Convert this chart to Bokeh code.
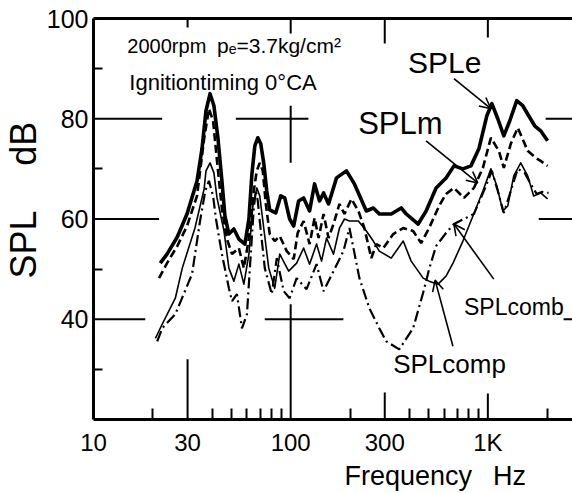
from bokeh.plotting import figure
from bokeh.models import Range1d, FixedTicker, LogAxis, Label, Arrow, OpenHead, Title
from bokeh.embed import file_html
from bokeh.resources import INLINE

# ---------------- data ----------------
# SPL_e : total engine noise (thick solid)
freq_e = [21.8, 23.6, 26.6, 29.8, 33.5, 35.5, 37.2, 39.0, 40.8, 42.8, 44.8, 46.4, 48.6, 51.5,
          54.6, 58.6, 61.4, 63.6, 65.8, 68.1, 70.5, 73.1, 75.6, 78.3, 84.0, 89.0, 93.3, 98.8,
          103.6, 109.7, 116.3, 124.7, 132.2, 140.1, 146.8, 155.6, 170.8, 191.8, 210.5, 241.9,
          262.5, 281.5, 323.6, 363.6, 385.4, 443.1, 486.3, 546.3, 613.7, 673.4, 747.4, 820.6,
          900.6, 988.3, 1048, 1123, 1205, 1292, 1401, 1503, 1611, 1728, 1852, 2009]
spl_e = [51.2, 53.0, 56.4, 61.0, 67.6, 74.0, 81.6, 85.0, 82.6, 76.0, 67.6, 60.6, 57.0, 58.0,
         56.0, 55.0, 60.0, 69.0, 74.6, 76.2, 75.0, 71.0, 65.6, 61.8, 61.2, 64.6, 64.2, 60.0,
         58.6, 63.6, 64.2, 61.6, 67.0, 63.6, 65.2, 63.0, 68.2, 69.6, 67.0, 61.6,
         62.2, 61.0, 61.0, 62.2, 61.0, 59.0, 61.6, 66.2, 68.2, 70.6, 70.0, 70.6,
         74.0, 80.6, 83.0, 80.0, 76.6, 79.6, 83.6, 82.6, 80.6, 78.6, 77.6, 75.6]

# SPL_m : mechanical noise (dashed)
freq_m = [21.5, 23.6, 26.6, 29.8, 33.5, 36.4, 38.5, 40.4, 42.3, 44.8, 47.5, 50.4, 54.6, 57.9,
          61.4, 65.0, 67.3, 69.7, 72.2, 74.8, 78.3, 83.0, 88.0, 95.5, 103.6, 108.5, 116.3,
          124.7, 132.2, 138.5, 146.8, 155.6, 164.9, 176.8, 187.4, 203.3, 220.5, 236.4, 256.5,
          271.8, 294.9, 331.3, 372.2, 417.9, 458.8, 503.5, 565.7, 613.7, 673.4, 756.2, 849.9,
          943.5, 1036, 1137, 1205, 1307, 1418, 1592, 1748, 1852, 2009]
spl_m = [48.2, 51.2, 54.6, 58.6, 64.6, 76.0, 82.0, 79.6, 71.6, 62.0, 56.0, 53.0, 54.2, 50.2,
         56.2, 65.6, 69.6, 71.2, 69.6, 63.0, 57.0, 55.6, 56.6, 53.6, 52.0, 57.2, 59.6,
         55.0, 60.2, 56.2, 61.0, 56.2, 59.0, 63.0, 61.0, 64.0, 61.6, 58.2, 52.2,
         55.0, 54.2, 57.0, 58.2, 57.6, 55.2, 58.2, 62.6, 65.0, 66.2, 64.2, 66.2,
         70.2, 76.2, 73.6, 70.2, 75.0, 78.2, 73.6, 72.2, 71.6, 70.6]

# SPL_comp (thin solid)
freq_comp = [20.6, 22.3, 26.0, 28.2, 32.7, 36.4, 37.2, 39.0, 40.8, 42.3, 45.9, 48.6, 51.5,
             54.6, 57.9, 61.4, 64.3, 67.4, 69.7, 73.1, 77.4, 83.0, 88.0, 97.7, 107.2, 116.3,
             124.7, 135.3, 143.4, 152.0, 164.9, 176.8, 187.4, 198.6, 220.5, 241.9, 262.5,
             281.5, 323.6, 372.2, 408.4, 469.6, 503.5, 559.2, 613.7, 665.6, 747.4, 840.0,
             943.5, 1036, 1110, 1191, 1262, 1353, 1468, 1592, 1708, 1852, 2009]
spl_comp = [36.2, 39.0, 44.2, 50.2, 58.2, 66.0, 69.6, 71.2, 69.2, 64.2, 57.6, 50.2, 47.6,
            51.0, 47.0, 53.0, 62.6, 66.2, 64.6, 58.0, 50.2, 46.2, 53.0, 49.6, 51.2, 54.2,
            51.0, 55.0, 51.6, 56.2, 53.0, 58.2, 60.0, 59.6, 59.6, 57.6, 55.6,
            53.6, 52.2, 55.6, 51.6, 48.2, 47.6, 47.0, 48.6, 51.2, 55.6, 60.6,
            65.6, 70.0, 66.6, 61.6, 62.6, 68.6, 71.2, 68.6, 64.6, 65.2, 64.0]

# SPL_comb (dash-dot)
freq_comb = [21.05, 22.3, 26.0, 31.6, 34.7, 36.9, 38.5, 40.4, 41.8, 44.8, 48.6, 50.4, 53.4,
             56.6, 60.0, 62.1, 65.0, 66.6, 68.1, 69.7, 73.9, 80.2, 85.0, 92.2, 98.8, 107.2,
             120.4, 135.3, 146.8, 164.9, 185.2, 198.6, 208.1, 223.1, 250.6, 281.5, 305.3,
             355.2, 417.9, 475.1, 503.5, 546.3, 613.7, 673.4, 756.2, 849.9, 954.6, 1048,
             1123, 1205, 1307, 1418, 1538, 1649, 1768, 1874, 2033]
spl_comb = [35.6, 38.2, 41.0, 49.0, 59.6, 65.6, 67.6, 64.6, 60.0, 53.0, 46.2, 43.6, 45.0,
            38.2, 41.0, 50.2, 62.2, 65.6, 63.6, 59.6, 50.2, 45.0, 52.2, 45.6, 44.2, 48.2,
            46.0, 51.0, 45.6, 49.6, 53.6, 58.2, 54.2, 48.2, 42.2, 38.2, 35.6,
            34.0, 38.2, 46.0, 50.0, 54.6, 57.2, 59.0, 60.0, 61.0, 65.6, 69.6,
            65.6, 61.2, 65.6, 70.0, 69.2, 67.0, 65.0, 65.4, 65.2]

x_ticks = [10, 30, 100, 300, 1000]
x_tick_labels = ["10", "30", "100", "300", "1K"]
x_minor = [20, 40, 50, 60, 70, 80, 90, 200, 400, 500, 600, 700, 800, 900, 2000]
y_ticks = [40, 60, 80, 100]
y_minor = [30, 50, 70, 90]

FONT = "Liberation Sans"

p = figure(width=572, height=493, x_axis_type="log",
           x_range=Range1d(10, 2687), y_range=Range1d(20, 100),
           output_backend="svg", toolbar_location=None,
           min_border_left=91, min_border_right=0, min_border_top=18, min_border_bottom=74)
p.outline_line_color = None
p.grid.visible = False

# bottom axis
xa = p.xaxis[0]
xa.ticker = FixedTicker(ticks=x_ticks, minor_ticks=x_minor)
xa.major_label_overrides = {t: s for t, s in zip(x_ticks, x_tick_labels)}
xa.major_tick_in = 0
xa.major_tick_out = 0
xa.minor_tick_in = 11
xa.minor_tick_out = 0
xa.minor_tick_line_width = 2
xa.axis_line_width = 3
xa.major_label_text_font = FONT
xa.major_label_text_font_size = "24px"
xa.major_label_standoff = 9
xa.major_label_text_color = "black"

# left axis
ya = p.yaxis[0]
ya.ticker = FixedTicker(ticks=y_ticks, minor_ticks=y_minor)
ya.major_tick_in = 0
ya.major_tick_out = 0
ya.minor_tick_in = 9
ya.minor_tick_out = 0
ya.minor_tick_line_width = 2
ya.axis_line_width = 3
ya.major_label_text_font = FONT
ya.major_label_text_font_size = "25px"
ya.major_label_standoff = 5
ya.major_label_text_color = "black"

# top border
top = LogAxis(ticker=FixedTicker(ticks=[]), major_label_text_font_size="0px",
              major_tick_in=0, major_tick_out=0, minor_tick_in=0, minor_tick_out=0,
              axis_line_width=3, major_label_standoff=0)
p.add_layout(top, "above")

# axis titles
p.add_layout(Title(text="Frequency \u2002Hz", align="left", offset=251, text_font=FONT,
                   text_font_size="27px", text_font_style="normal", text_color="black",
                   standoff=0), "below")
p.add_layout(Title(text="SPL \u2003dB", align="left", offset=141, text_font=FONT,
                   text_font_size="36px", text_font_style="normal", text_color="black",
                   standoff=0), "left")

# cross-hair grid marks
hx0 = [10, 52.7, 1963, 10, 1812, 10, 73.9, 2421]
hx1 = [22.3, 123, 2687, 21.5, 2687, 18.3, 185, 2687]
hy = [80, 80, 80, 60, 60, 40, 40, 40]
p.segment(x0=hx0, y0=hy, x1=hx1, y1=hy, line_color="black", line_width=2.2)
vx = [30, 100, 100, 300, 1000, 30, 100, 300, 1000]
vy0 = [20, 20, 71.2, 20, 20, 100, 100, 100, 100]
vy1 = [32, 43, 82.6, 25.4, 25.2, 98.2, 97, 95, 96.2]
p.segment(x0=vx, y0=vy0, x1=vx, y1=vy1, line_color="black", line_width=2)

# curves
p.line(freq_e, spl_e, line_color="black", line_width=3.6, line_join="round")
p.line(freq_m, spl_m, line_color="black", line_width=2.6, line_dash="8 4")
p.line(freq_comp, spl_comp, line_color="black", line_width=1.6, line_join="round")
p.line(freq_comb, spl_comb, line_color="black", line_width=2.2, line_dash="11 4 2 4")

# arrows
arrows = [(673, 88, 1036, 82), (486, 75.6, 889, 67.2), (1072, 48, 673, 59), (665, 34.6, 540, 47.8)]
for xs, ys, xe, ye in arrows:
    p.add_layout(Arrow(end=OpenHead(size=11, line_width=1.6), x_start=xs, y_start=ys,
                       x_end=xe, y_end=ye, line_width=1.6, line_color="black"))

def lab(x, y, text, size):
    p.add_layout(Label(x=x, y=y, text=text, text_font=FONT, text_font_size=f"{size}px",
                       text_color="black", text_baseline="alphabetic", text_align="left",
                       y_offset=round(0.38 * size)))

lab(394, 89, "SPLe", 30)
lab(220, 76.6, "SPLm", 31)
lab(757, 40.6, "SPLcomb", 23)
lab(331, 29, "SPLcomp", 26)
lab(14.85, 93, "2000rpm", 20)
lab(42.3, 93, "p\u2091=3.7kg/cm\u00b2", 21)
lab(15.2, 85.6, "Ignitiontiming 0\u00b0CA", 22)

open("out.html", "w").write(file_html(p, INLINE))
